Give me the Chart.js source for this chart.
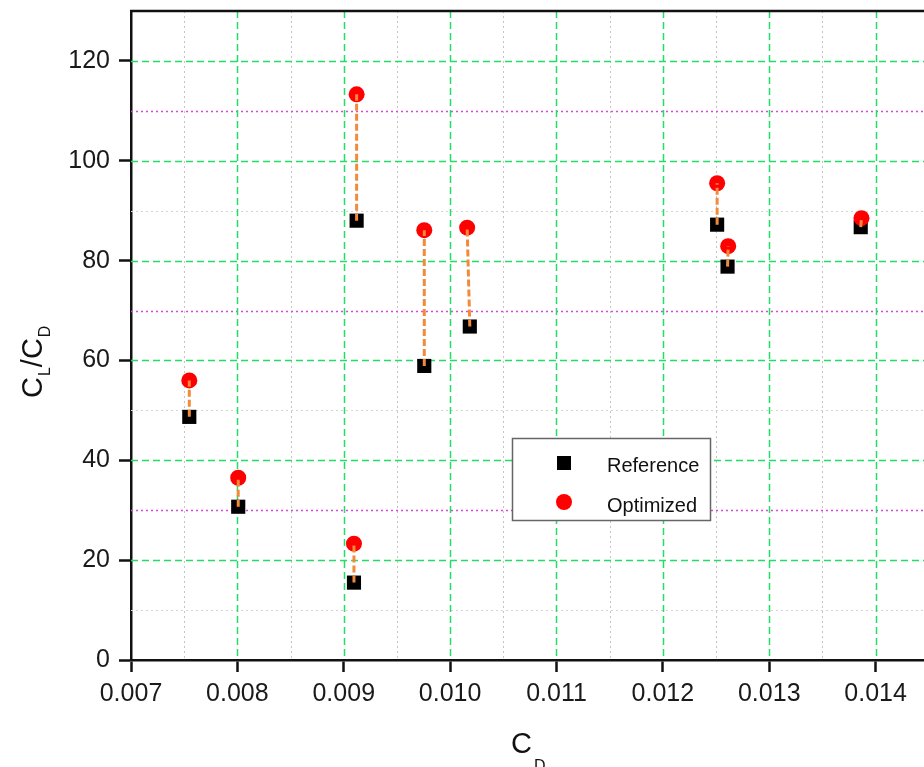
<!DOCTYPE html>
<html>
<head>
<meta charset="utf-8">
<script src="https://cdn.jsdelivr.net/npm/chart.js@4/dist/chart.umd.min.js"></script>
<style>
  html, body { margin: 0; padding: 0; background: #fff; overflow: hidden; }
  #wrap { width: 1000px; height: 767px; }
</style>
</head>
<body>
<div id="wrap"><canvas id="ratioChart" width="1000" height="767"></canvas></div>
<script>
// values
const seriesNames = ["Reference", "Optimized"];
const cdReference = [0.007548, 0.008008, 0.009096, 0.009121, 0.009757, 0.010185, 0.012510, 0.012608, 0.013860];
const ratioReference = [48.7, 30.7, 15.5, 88.0, 58.9, 66.8, 87.2, 78.8, 86.7];
const cdOptimized = [0.007548, 0.008008, 0.009096, 0.009121, 0.009757, 0.010160, 0.012510, 0.012614, 0.013867];
const ratioOptimized = [56.0, 36.5, 23.3, 113.3, 86.1, 86.6, 95.5, 82.9, 88.5];

const xTicks = [0.007, 0.008, 0.009, 0.010, 0.011, 0.012, 0.013, 0.014, 0.015];
const yTicks = [0, 20, 40, 60, 80, 100, 120];
const xMinorGrid = [0.0075, 0.0085, 0.0095, 0.0105, 0.0115, 0.0125, 0.0135, 0.0145];
const yMagentaGrid = [30, 70, 110];
const yGrayGrid = [10, 50, 90];

const FONT = "'Liberation Sans', Arial, sans-serif";

const refPoints = cdReference.map((x, i) => ({ x: x, y: ratioReference[i] }));
const optPoints = cdOptimized.map((x, i) => ({ x: x, y: ratioOptimized[i] }));
// connector: ref -> opt, then a gap
const linkPoints = [];
cdReference.forEach((x, i) => {
    linkPoints.push({ x: x, y: ratioReference[i] });
    linkPoints.push({ x: cdOptimized[i], y: ratioOptimized[i] });
    linkPoints.push({ x: cdOptimized[i], y: null });
});

// grid lines, frame, legend and axis titles
const decorPlugin = {
    id: "decor",
    beforeDatasetsDraw(chart) {
        const { ctx, chartArea: a, scales } = chart;
        const xs = scales.x, ys = scales.y;
        ctx.save();
        ctx.beginPath();
        ctx.rect(a.left, a.top, a.right - a.left, a.bottom - a.top);
        ctx.clip();

        function vline(v, color, dash, w) {
            const px = Math.round(xs.getPixelForValue(v)) + 0.5;
            ctx.strokeStyle = color; ctx.setLineDash(dash); ctx.lineWidth = w;
            ctx.beginPath(); ctx.moveTo(px, a.top); ctx.lineTo(px, a.bottom); ctx.stroke();
        }
        function hline(v, color, dash, w) {
            const py = Math.round(ys.getPixelForValue(v)) + 0.5;
            ctx.strokeStyle = color; ctx.setLineDash(dash); ctx.lineWidth = w;
            ctx.beginPath(); ctx.moveTo(a.left, py); ctx.lineTo(a.right, py); ctx.stroke();
        }
        xMinorGrid.forEach(v => vline(v, "#c4c4c4", [2, 3], 1));
        yGrayGrid.forEach(v => hline(v, "#d4d4d4", [2, 3], 1));
        yMagentaGrid.forEach(v => hline(v, "#d04cd8", [2, 3], 1.4));
        xTicks.slice(1).forEach(v => vline(v, "#22dd66", [7, 4], 1.5));
        yTicks.slice(1).forEach(v => hline(v, "#22dd66", [7, 4], 1.5));
        ctx.restore();

        // top frame line
        ctx.save();
        ctx.strokeStyle = "#111"; ctx.lineWidth = 2.5;
        ctx.beginPath(); ctx.moveTo(a.left - 1, a.top); ctx.lineTo(a.right, a.top); ctx.stroke();
        ctx.restore();
    },
    afterDraw(chart) {
        const ctx = chart.ctx;
        ctx.save();
        // legend box
        ctx.fillStyle = "#fff";
        ctx.fillRect(512, 438, 198, 82);
        ctx.strokeStyle = "#666"; ctx.lineWidth = 1.5;
        ctx.strokeRect(512.5, 438.5, 198, 82);
        ctx.fillStyle = "#000";
        ctx.fillRect(557, 456, 14, 14);
        ctx.fillStyle = "#ff0000";
        ctx.beginPath(); ctx.arc(564, 502, 8, 0, Math.PI * 2); ctx.fill();
        ctx.fillStyle = "#111";
        ctx.font = "20px " + FONT;
        ctx.textBaseline = "middle";
        ctx.textAlign = "left";
        ctx.fillText(seriesNames[0], 607, 466);
        ctx.fillText(seriesNames[1], 607, 506);

        // x title C_D
        ctx.textBaseline = "alphabetic";
        ctx.font = "29px " + FONT;
        ctx.fillText("C", 511, 753);
        ctx.font = "16px " + FONT;
        ctx.fillText("D", 534, 771);

        // y title C_L/C_D (rotated)
        ctx.translate(42, 398);
        ctx.rotate(-Math.PI / 2);
        let x = 0;
        const big = "29px " + FONT, small = "16px " + FONT;
        ctx.font = big; ctx.fillText("C", x, 0); x += ctx.measureText("C").width + 1;
        ctx.font = small; ctx.fillText("L", x, 8); x += ctx.measureText("L").width;
        ctx.font = big; ctx.fillText("/", x, 0); x += ctx.measureText("/").width;
        ctx.fillText("C", x, 0); x += ctx.measureText("C").width + 1;
        ctx.font = small; ctx.fillText("D", x, 8);
        ctx.restore();
    }
};

function noPad(s) {
    s.paddingTop = 0; s.paddingBottom = 0; s.paddingLeft = 0; s.paddingRight = 0;
}

const ctx = document.getElementById("ratioChart").getContext("2d");
const ratioChart = new Chart(ctx, {
    type: "scatter",
    data: {
        datasets: [
            {
                type: "line",
                label: "link",
                data: linkPoints,
                borderColor: "#f28a3a",
                borderWidth: 3,
                borderDash: [7, 3],
                pointRadius: 0,
                spanGaps: false,
                fill: false,
                order: 0
            },
            {
                label: seriesNames[0],
                data: refPoints,
                pointStyle: "rect",
                pointRadius: 10,
                backgroundColor: "#000",
                borderColor: "#000",
                borderWidth: 0,
                order: 2
            },
            {
                label: seriesNames[1],
                data: optPoints,
                pointStyle: "circle",
                pointRadius: 8,
                backgroundColor: "#ff0000",
                borderColor: "#ff0000",
                borderWidth: 0,
                order: 1
            }
        ]
    },
    options: {
        responsive: false,
        animation: false,
        events: [],
        layout: { padding: { left: 0, top: 11, right: 18, bottom: 0 } },
        plugins: { legend: { display: false }, tooltip: { enabled: false } },
        scales: {
            x: {
                type: "linear",
                min: 0.007,
                max: 0.015,
                afterBuildTicks: (s) => { s.ticks = xTicks.map(v => ({ value: v })); },
                afterFit: (s) => { s.height = 107; noPad(s); },
                grid: { drawOnChartArea: false, drawTicks: true, tickLength: 12, tickWidth: 2.5, tickColor: "#111" },
                border: { display: true, color: "#111", width: 2.5 },
                ticks: {
                    padding: 7,
                    color: "#1a1a1a",
                    font: { family: FONT, size: 25 },
                    maxRotation: 0,
                    autoSkip: false,
                    callback: (v) => Number(v).toFixed(3)
                }
            },
            y: {
                type: "linear",
                min: 0,
                max: 130,
                afterBuildTicks: (s) => { s.ticks = yTicks.map(v => ({ value: v })); },
                afterFit: (s) => { s.width = 131; noPad(s); },
                grid: { drawOnChartArea: false, drawTicks: true, tickLength: 12, tickWidth: 2.5, tickColor: "#111" },
                border: { display: true, color: "#111", width: 2.5 },
                ticks: {
                    padding: 9,
                    color: "#1a1a1a",
                    font: { family: FONT, size: 25 },
                    callback: (v) => String(v)
                }
            }
        }
    },
    plugins: [decorPlugin]
});
</script>
</body>
</html>
